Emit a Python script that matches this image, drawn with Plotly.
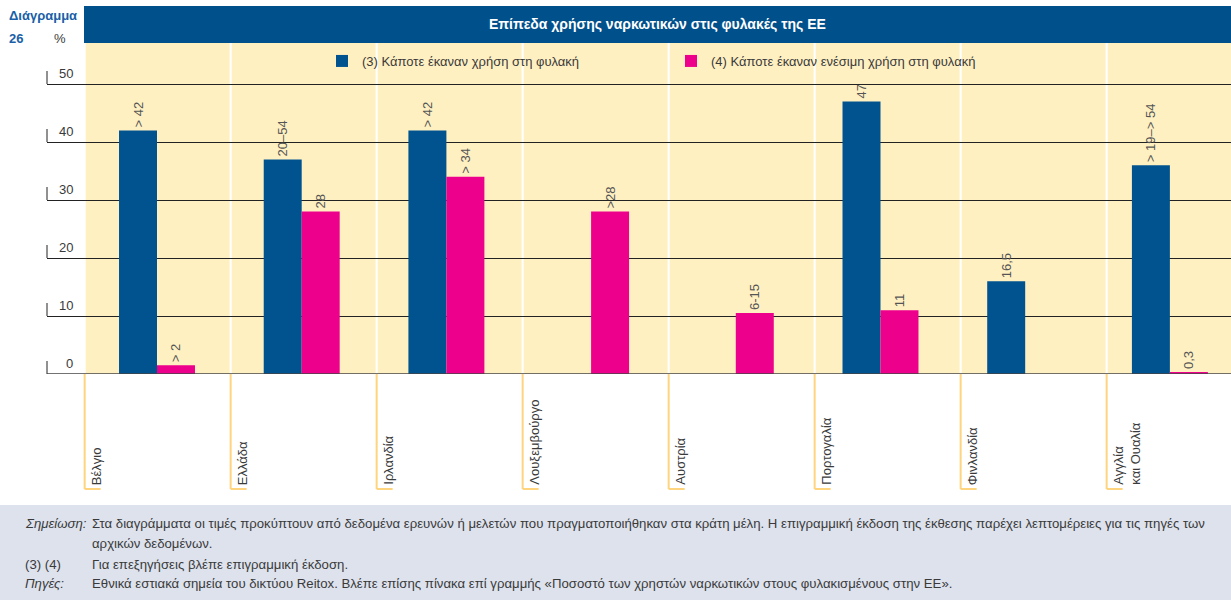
import plotly.graph_objects as go

categories = ["Βέλγιο", "Ελλάδα", "Ιρλανδία", "Λουξεμβούργο", "Αυστρία",
              "Πορτογαλία", "Φινλανδία", "Αγγλία<br>και Ουαλία"]
series_names = ["(3) Κάποτε έκαναν χρήση στη φυλακή",
                "(4) Κάποτε έκαναν ενέσιμη χρήση στη φυλακή"]
ever_used = [42, 37, 42, None, None, 47, 16, 36]
ever_used_labels = ["> 42", "20–54", "> 42", "", "", "47", "16,5", "> 19–> 54"]
ever_injected = [1.5, 28, 34, 28, 10.5, 11, None, 0.3]
ever_injected_labels = ["> 2", "28", "> 34", ">28", "6-15", "11", "", "0,3"]
y_ticks = [0, 10, 20, 30, 40, 50]

title_text = "Επίπεδα χρήσης ναρκωτικών στις φυλακές της ΕΕ"
note_lines = [
    ("<i>Σημείωση:</i>", "Στα διαγράμματα οι τιμές προκύπτουν από δεδομένα ερευνών ή μελετών που πραγματοποιήθηκαν στα κράτη μέλη. Η επιγραμμική έκδοση της έκθεσης παρέχει λεπτομέρειες για τις πηγές των"),
    ("", "αρχικών δεδομένων."),
    ("(3) (4)", "Για επεξηγήσεις βλέπε επιγραμμική έκδοση."),
    ("<i>Πηγές:</i>", "Εθνικά εστιακά σημεία του δικτύου Reitox. Βλέπε επίσης πίνακα επί γραμμής «Ποσοστό των χρηστών ναρκωτικών στους φυλακισμένους στην ΕΕ»."),
]

# ---- styling / geometry ----
W, H = 1231, 600
L, T, B = 47, 43, 226
PW, PH = W - L, H - T - B
FONT = "Liberation Sans, Arial, sans-serif"
BLUE = "#00538f"
MAGENTA = "#ec008c"
CREAM = "#fff0c2"
ORANGE = "#ffd47e"
NOTE_BG = "#dde2ed"
TXT = "#3a3a3a"

x_idx = list(range(len(categories)))
XR = [-0.7602, 7.4223]
YR = [0, PH / 5.8]


def px_x(p):
    return (p - L) / PW


def px_y(p):
    return (H - B - p) / PH


fig = go.Figure()
fig.add_trace(go.Bar(x=x_idx, y=ever_used, name=series_names[0],
                     marker=dict(color=BLUE, line=dict(width=0)),
                     text=ever_used_labels, textposition="outside", textangle=-90,
                     constraintext="none",
                     textfont=dict(size=13, color="#555555", family=FONT),
                     cliponaxis=False, hoverinfo="skip"))
fig.add_trace(go.Bar(x=x_idx, y=ever_injected, name=series_names[1],
                     marker=dict(color=MAGENTA, line=dict(width=0)),
                     text=ever_injected_labels, textposition="outside", textangle=-90,
                     constraintext="none",
                     textfont=dict(size=13, color="#555555", family=FONT),
                     cliponaxis=False, hoverinfo="skip"))

shapes = []
# cream plot background
shapes.append(dict(type="rect", xref="paper", yref="paper", x0=px_x(84), x1=1, y0=0, y1=1,
                   fillcolor=CREAM, line=dict(width=0), layer="below"))
# title bar
shapes.append(dict(type="rect", xref="paper", yref="paper", x0=px_x(84), x1=1,
                   y0=px_y(43), y1=px_y(6), fillcolor="#00508c", line=dict(width=0), layer="below"))
# notes box
shapes.append(dict(type="rect", xref="paper", yref="paper", x0=px_x(0), x1=1,
                   y0=px_y(600), y1=px_y(505), fillcolor=NOTE_BG, line=dict(width=0), layer="below"))

step = 146 / 144.7
foot = 16 / 144.7
label_annots = []
for k, name in enumerate(categories):
    xd = -0.5 + k * step
    # white dividers inside the plot
    shapes.append(dict(type="line", xref="x", yref="paper", x0=xd, x1=xd, y0=0, y1=1,
                       line=dict(color="white", width=2), layer="below"))
    # orange category brackets below axis
    shapes.append(dict(type="line", xref="x", yref="paper", x0=xd, x1=xd,
                       y0=0, y1=px_y(489), line=dict(color=ORANGE, width=2)))
    shapes.append(dict(type="line", xref="x", yref="paper", x0=xd, x1=xd + foot,
                       y0=px_y(489), y1=px_y(489), line=dict(color=ORANGE, width=2)))
    label_annots.append(dict(text=name, x=xd, xref="x", xshift=2, xanchor="left",
                             y=px_y(487), yref="paper", yanchor="bottom", textangle=-90,
                             align="left", showarrow=False,
                             font=dict(size=13, color=TXT, family=FONT)))

# small vertical marks at the left of each gridline
for v in y_ticks:
    shapes.append(dict(type="line", xref="paper", yref="y", x0=0, x1=0, y0=v, y1=v + 13 / 5.8,
                       line=dict(color="#222222", width=1)))

annots = list(label_annots)
for v in y_ticks:
    annots.append(dict(text=str(v), x=px_x(75), xref="paper", xanchor="right",
                       y=v, yref="y", yanchor="middle", yshift=11, showarrow=False,
                       font=dict(size=13, color=TXT, family=FONT)))

annots.append(dict(text="<b>" + title_text + "</b>", x=px_x(657.5), xref="paper", xanchor="center",
                   y=px_y(24), yref="paper", yanchor="middle", showarrow=False,
                   font=dict(size=14, color="white", family=FONT)))
annots.append(dict(text="<b>Διάγραμμα</b>", x=px_x(7), xref="paper", xanchor="left",
                   y=px_y(15), yref="paper", yanchor="middle", showarrow=False,
                   font=dict(size=13, color="#1a5fa8", family=FONT)))
annots.append(dict(text="<b>26</b>", x=px_x(7), xref="paper", xanchor="left",
                   y=px_y(38), yref="paper", yanchor="middle", showarrow=False,
                   font=dict(size=13, color="#1a5fa8", family=FONT)))
annots.append(dict(text="%", x=px_x(60), xref="paper", xanchor="center",
                   y=px_y(38), yref="paper", yanchor="middle", showarrow=False,
                   font=dict(size=13, color=TXT, family=FONT)))

note_y = [523, 543, 564, 583]
for (lab, body), yy in zip(note_lines, note_y):
    if lab:
        annots.append(dict(text=lab, x=px_x(23), xref="paper", xanchor="left",
                           y=px_y(yy), yref="paper", yanchor="middle", showarrow=False,
                           font=dict(size=13.2, color=TXT, family=FONT)))
    annots.append(dict(text=body, x=px_x(90), xref="paper", xanchor="left",
                       y=px_y(yy), yref="paper", yanchor="middle", showarrow=False,
                       font=dict(size=13.2, color=TXT, family=FONT)))

fig.update_layout(
    width=W, height=H,
    margin=dict(l=L, r=0, t=T, b=B, pad=0),
    paper_bgcolor="white", plot_bgcolor="rgba(0,0,0,0)",
    barmode="group", bargap=0.475, bargroupgap=0,
    showlegend=True,
    legend=dict(orientation="h", x=px_x(322), xanchor="left", y=px_y(61), yanchor="middle",
                bgcolor="rgba(0,0,0,0)", font=dict(size=13, color=TXT, family=FONT),
                entrywidth=304, entrywidthmode="pixels", traceorder="normal"),
    xaxis=dict(range=XR, showgrid=False, showticklabels=False, ticks="", zeroline=False,
               showline=False, fixedrange=True),
    yaxis=dict(range=YR, tickvals=y_ticks, showticklabels=False, showgrid=True,
               gridcolor="#222222", gridwidth=1, zeroline=False, showline=False, ticks="",
               fixedrange=True),
    shapes=shapes,
    annotations=annots,
    font=dict(family=FONT),
)
# axis baseline
fig.add_shape(type="line", xref="paper", yref="y", x0=0, x1=1, y0=0, y1=0,
              line=dict(color="#444444", width=1.5))

fig.write_html("out.html", config={"displayModeBar": False},
               post_script="document.body.style.margin='0';document.body.style.overflow='hidden';")
